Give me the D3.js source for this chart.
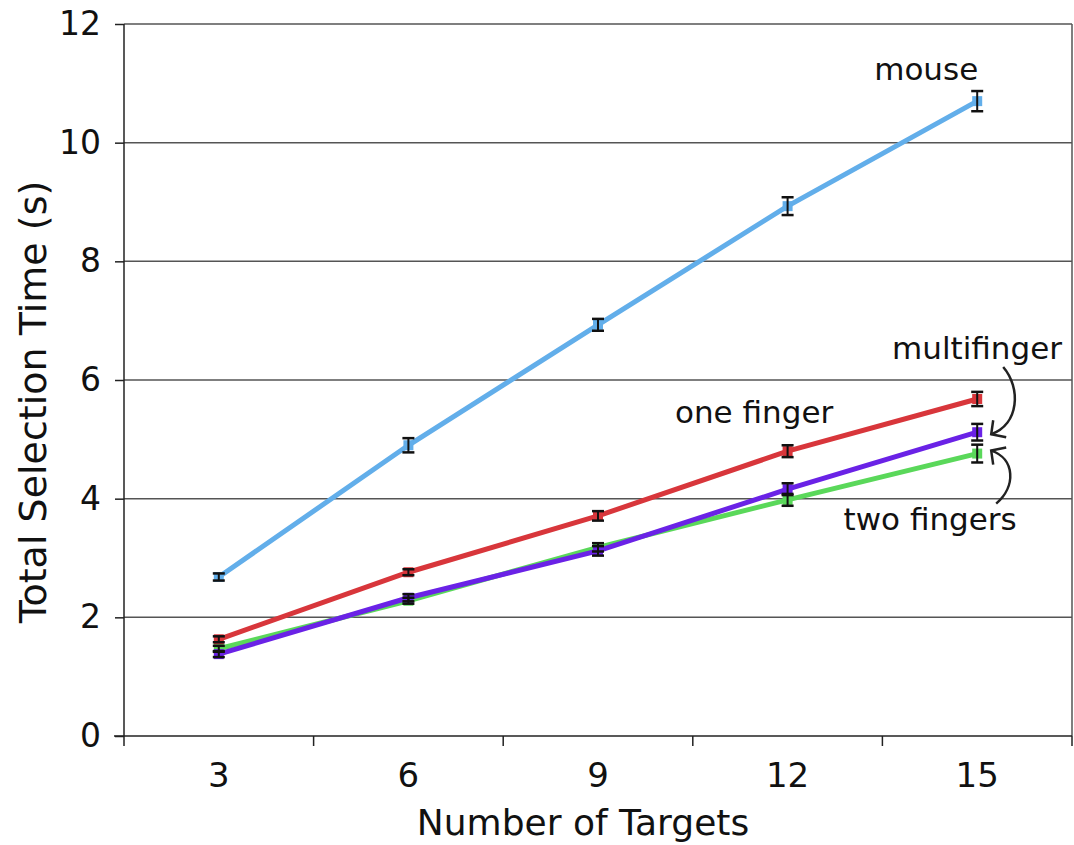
<!DOCTYPE html>
<html>
<head>
<meta charset="utf-8">
<script src="https://cdnjs.cloudflare.com/ajax/libs/d3/7.8.5/d3.min.js"></script>
<style>
  body { margin: 0; background: #fff; }
  text { font-family: "DejaVu Sans", Verdana, sans-serif; fill: #111; }
</style>
</head>
<body>
<div id="chart"></div>
<script>
// data
var targets = [3, 6, 9, 12, 15];
var mouse = [2.68, 4.90, 6.93, 8.93, 10.70];
var mouseErr = [0.06, 0.12, 0.10, 0.15, 0.17];
var oneFinger = [1.63, 2.76, 3.71, 4.80, 5.68];
var oneFingerErr = [0.05, 0.05, 0.08, 0.10, 0.12];
var twoFingers = [1.47, 2.28, 3.18, 3.98, 4.76];
var twoFingersErr = [0.05, 0.05, 0.07, 0.10, 0.15];
var multiFinger = [1.38, 2.33, 3.12, 4.16, 5.12];
var multiFingerErr = [0.05, 0.06, 0.08, 0.10, 0.14];
var yTicks = [0, 2, 4, 6, 8, 10, 12];

var series = [
  { name: "two fingers", values: twoFingers, err: twoFingersErr, color: "#5ad85a" },
  { name: "multifinger", values: multiFinger, err: multiFingerErr, color: "#6a22e6" },
  { name: "one finger", values: oneFinger, err: oneFingerErr, color: "#d8363b" },
  { name: "mouse", values: mouse, err: mouseErr, color: "#62aeea" }
];

// set the dimensions and margins of the graph
var margin = { top: 24, right: 2, bottom: 109, left: 124 },
    width = 1074 - margin.left - margin.right,
    height = 845 - margin.top - margin.bottom;

var svg = d3.select("#chart")
    .append("svg")
    .attr("width", 1074)
    .attr("height", 845)
    .append("g")
    .attr("transform", "translate(" + margin.left + "," + margin.top + ")");

var x = d3.scaleBand()
    .domain(targets)
    .range([0, width]);

var y = d3.scaleLinear()
    .domain([0, 12])
    .range([height, 0]);

function cx(i) { return x(targets[i]) + x.bandwidth() / 2; }

// gridlines
svg.append("g")
    .selectAll("line")
    .data(yTicks.slice(1))
    .enter()
    .append("line")
    .attr("x1", 0)
    .attr("x2", width)
    .attr("y1", function (d) { return y(d); })
    .attr("y2", function (d) { return y(d); })
    .style("stroke", "#555")
    .style("stroke-width", 1.5);

// right border
svg.append("line")
    .attr("x1", width).attr("x2", width)
    .attr("y1", y(12)).attr("y2", y(0))
    .style("stroke", "#555")
    .style("stroke-width", 1.5);

// Y axis
var yAxis = svg.append("g")
    .call(d3.axisLeft(y).tickValues(yTicks).tickSize(9).tickPadding(14));
yAxis.select(".domain").attr("d", "M0," + y(12) + "V" + y(0))
    .style("stroke", "#222").style("stroke-width", 1.5);
yAxis.selectAll(".tick line").style("stroke", "#222").style("stroke-width", 1.5);
yAxis.selectAll("text").style("font-size", "33px").style("fill", "#111")
    .style("font-family", "DejaVu Sans, Verdana, sans-serif");

// X axis, ticks at category boundaries
var xAxisG = svg.append("g")
    .attr("transform", "translate(0," + height + ")");
xAxisG.append("line")
    .attr("x1", -10).attr("x2", width)
    .style("stroke", "#222").style("stroke-width", 1.5);
xAxisG.selectAll(".xtick")
    .data(targets)
    .enter()
    .append("line")
    .attr("x1", function (d) { return x(d); })
    .attr("x2", function (d) { return x(d); })
    .attr("y1", 0).attr("y2", 10)
    .style("stroke", "#222").style("stroke-width", 1.5);
xAxisG.append("line")
    .attr("x1", width).attr("x2", width).attr("y1", 0).attr("y2", 10)
    .style("stroke", "#222").style("stroke-width", 1.5);
xAxisG.selectAll(".xlabel")
    .data(targets)
    .enter()
    .append("text")
    .attr("x", function (d) { return x(d) + x.bandwidth() / 2; })
    .attr("y", 51)
    .attr("text-anchor", "middle")
    .style("font-size", "34px")
    .text(function (d) { return d; });

// axis titles
svg.append("text")
    .attr("x", width / 2 - 15)
    .attr("y", height + 99)
    .attr("text-anchor", "middle")
    .style("font-size", "36px")
    .text("Number of Targets");

svg.append("text")
    .attr("transform", "rotate(-90)")
    .attr("x", -(height / 2) - 22)
    .attr("y", -78)
    .attr("text-anchor", "middle")
    .style("font-size", "38px")
    .text("Total Selection Time (s)");

// lines
var line = d3.line()
    .x(function (d, i) { return cx(i); })
    .y(function (d) { return y(d); });

series.forEach(function (s) {
  svg.append("path")
      .datum(s.values)
      .attr("d", line)
      .style("fill", "none")
      .style("stroke", s.color)
      .style("stroke-width", 5);

  // small markers
  svg.append("g")
      .selectAll("rect")
      .data(s.values)
      .enter()
      .append("rect")
      .attr("x", function (d, i) { return cx(i) - 5; })
      .attr("y", function (d) { return y(d) - 5; })
      .attr("width", 10)
      .attr("height", 10)
      .style("fill", s.color);
});

// error bars
series.forEach(function (s) {
  var g = svg.append("g");
  s.values.forEach(function (v, i) {
    var e = s.err[i];
    g.append("line")
        .attr("x1", cx(i)).attr("x2", cx(i))
        .attr("y1", y(v - e)).attr("y2", y(v + e))
        .style("stroke", "#111").style("stroke-width", 2);
    [v - e, v + e].forEach(function (w) {
      g.append("line")
          .attr("x1", cx(i) - 6).attr("x2", cx(i) + 6)
          .attr("y1", y(w)).attr("y2", y(w))
          .style("stroke", "#111").style("stroke-width", 2.5);
    });
  });
});

// annotations
var last = targets.length - 1;
svg.append("text")
    .attr("x", cx(last) - 103).attr("y", y(12) + 56)
    .style("font-size", "31px").text("mouse");
svg.append("text")
    .attr("x", cx(2) + 77).attr("y", y(oneFinger[last]) + 24)
    .style("font-size", "31px").text("one finger");
svg.append("text")
    .attr("x", width - 10).attr("y", y(6) - 21)
    .attr("text-anchor", "end")
    .style("font-size", "31px").text("multifinger");
svg.append("text")
    .attr("x", cx(3) + 56).attr("y", y(4) + 31)
    .style("font-size", "31px").text("two fingers");

// curved arrows
var ax = cx(last) + 14;
var upHead = [ax, y(multiFinger[last]) + 2];
var downHead = [ax, y(twoFingers[last]) - 3];

svg.append("path")
    .attr("d", "M" + (ax + 12) + "," + (y(6) - 13) +
        "C" + (ax + 30) + "," + (y(6) + 8) + " " + (ax + 28) + "," + (upHead[1] - 10) + " " + upHead[0] + "," + upHead[1])
    .style("fill", "none").style("stroke", "#222").style("stroke-width", 2.5);
svg.append("path")
    .attr("d", "M" + (upHead[0] + 2) + "," + (upHead[1] - 14) + "L" + upHead[0] + "," + upHead[1] + "L" + (upHead[0] + 15) + "," + (upHead[1] + 3))
    .style("fill", "none").style("stroke", "#222").style("stroke-width", 2.5);

svg.append("path")
    .attr("d", "M" + (ax + 5) + "," + (y(4) + 5) +
        "C" + (ax + 25) + "," + (y(4) - 12) + " " + (ax + 24) + "," + (downHead[1] + 8) + " " + downHead[0] + "," + downHead[1])
    .style("fill", "none").style("stroke", "#222").style("stroke-width", 2.5);
svg.append("path")
    .attr("d", "M" + (downHead[0] + 2) + "," + (downHead[1] + 14) + "L" + downHead[0] + "," + downHead[1] + "L" + (downHead[0] + 15) + "," + (downHead[1] - 3))
    .style("fill", "none").style("stroke", "#222").style("stroke-width", 2.5);
</script>
</body>
</html>
